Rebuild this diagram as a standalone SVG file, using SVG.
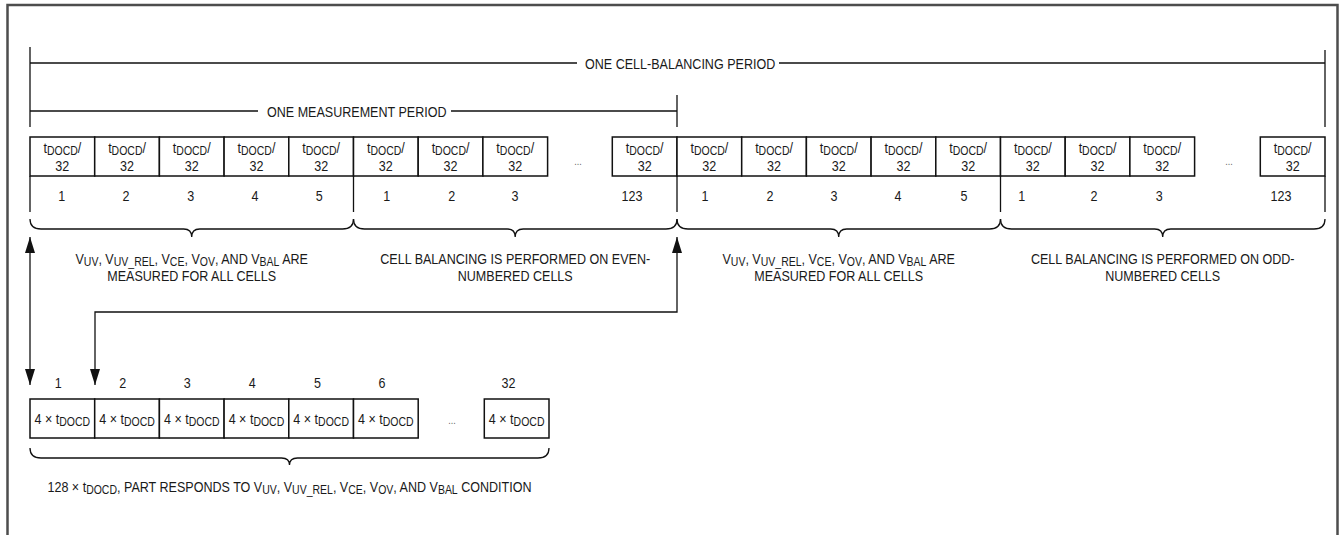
<svg xmlns="http://www.w3.org/2000/svg" width="1344" height="535" viewBox="0 0 1344 535">
<style>
.t{font-family:"Liberation Sans",Arial,sans-serif;font-size:15.3px;fill:#1a1a1a}
.m{text-anchor:middle}
.s{font-size:12.8px}
.d{font-size:11px;fill:#666}
.ln{stroke:#111;stroke-width:1.3;fill:none}
.bx{stroke:#111;stroke-width:1.5;fill:#fff}
.fr{stroke:#4d4d4d;stroke-width:2.5;fill:none}
</style>
<defs>
<marker id="ah" viewBox="0 0 16 10" refX="16" refY="5" markerWidth="16" markerHeight="10" markerUnits="userSpaceOnUse" orient="auto-start-reverse"><path d="M0,0 L16,5 L0,10 z" fill="#111"/></marker>
</defs>
<rect class="fr" x="7.5" y="5" width="1330" height="560"/>

<g id="cell-balancing-period">
<path class="ln" d="M30,63 H577 M779,63 H1325 M30,47 V127 M1325,50 V127"/>
<text class="t" transform="matrix(.82 0 0 1 585 69)">ONE CELL-BALANCING PERIOD</text>
</g>
<g id="measurement-period">
<path class="ln" d="M30,111 H258 M451,111 H677 M677,95 V127"/>
<text class="t" transform="matrix(.82 0 0 1 267 117)">ONE MEASUREMENT PERIOD</text>
</g>

<g id="top-cells">
<g id="g1-c1"><rect class="bx" x="30" y="137" width="64.7" height="39"/><text class="t m" transform="matrix(.82 0 0 1 62.35 153)">t<tspan class="s" dy="2">DOCD</tspan><tspan dy="-2">/</tspan></text><text class="t m" transform="matrix(.82 0 0 1 62.35 171)">32</text><text class="t m" transform="matrix(.82 0 0 1 61.7 201)">1</text></g>
<g id="g1-c2"><rect class="bx" x="94.7" y="137" width="64.7" height="39"/><text class="t m" transform="matrix(.82 0 0 1 127.05 153)">t<tspan class="s" dy="2">DOCD</tspan><tspan dy="-2">/</tspan></text><text class="t m" transform="matrix(.82 0 0 1 127.05 171)">32</text><text class="t m" transform="matrix(.82 0 0 1 126 201)">2</text></g>
<g id="g1-c3"><rect class="bx" x="159.4" y="137" width="64.7" height="39"/><text class="t m" transform="matrix(.82 0 0 1 191.75 153)">t<tspan class="s" dy="2">DOCD</tspan><tspan dy="-2">/</tspan></text><text class="t m" transform="matrix(.82 0 0 1 191.75 171)">32</text><text class="t m" transform="matrix(.82 0 0 1 190.7 201)">3</text></g>
<g id="g1-c4"><rect class="bx" x="224.1" y="137" width="64.7" height="39"/><text class="t m" transform="matrix(.82 0 0 1 256.45 153)">t<tspan class="s" dy="2">DOCD</tspan><tspan dy="-2">/</tspan></text><text class="t m" transform="matrix(.82 0 0 1 256.45 171)">32</text><text class="t m" transform="matrix(.82 0 0 1 255 201)">4</text></g>
<g id="g1-c5"><rect class="bx" x="288.8" y="137" width="64.7" height="39"/><text class="t m" transform="matrix(.82 0 0 1 321.15 153)">t<tspan class="s" dy="2">DOCD</tspan><tspan dy="-2">/</tspan></text><text class="t m" transform="matrix(.82 0 0 1 321.15 171)">32</text><text class="t m" transform="matrix(.82 0 0 1 319.3 201)">5</text></g>

<g id="g2-c1"><rect class="bx" x="353.5" y="137" width="64.7" height="39"/><text class="t m" transform="matrix(.82 0 0 1 385.85 153)">t<tspan class="s" dy="2">DOCD</tspan><tspan dy="-2">/</tspan></text><text class="t m" transform="matrix(.82 0 0 1 385.85 171)">32</text><text class="t m" transform="matrix(.82 0 0 1 386.7 201)">1</text></g>
<g id="g2-c2"><rect class="bx" x="418.2" y="137" width="64.7" height="39"/><text class="t m" transform="matrix(.82 0 0 1 450.55 153)">t<tspan class="s" dy="2">DOCD</tspan><tspan dy="-2">/</tspan></text><text class="t m" transform="matrix(.82 0 0 1 450.55 171)">32</text><text class="t m" transform="matrix(.82 0 0 1 451.7 201)">2</text></g>
<g id="g2-c3"><rect class="bx" x="482.9" y="137" width="64.7" height="39"/><text class="t m" transform="matrix(.82 0 0 1 515.25 153)">t<tspan class="s" dy="2">DOCD</tspan><tspan dy="-2">/</tspan></text><text class="t m" transform="matrix(.82 0 0 1 515.25 171)">32</text><text class="t m" transform="matrix(.82 0 0 1 515 201)">3</text></g>
<text class="t d m" transform="matrix(.82 0 0 1 578 165)">...</text>
<g id="g2-c123"><rect class="bx" x="612.3" y="137" width="64.7" height="39"/><text class="t m" transform="matrix(.82 0 0 1 644.65 153)">t<tspan class="s" dy="2">DOCD</tspan><tspan dy="-2">/</tspan></text><text class="t m" transform="matrix(.82 0 0 1 644.65 171)">32</text><text class="t m" transform="matrix(.82 0 0 1 632 201)">123</text></g>

<g id="g3-c1"><rect class="bx" x="677" y="137" width="64.7" height="39"/><text class="t m" transform="matrix(.82 0 0 1 709.35 153)">t<tspan class="s" dy="2">DOCD</tspan><tspan dy="-2">/</tspan></text><text class="t m" transform="matrix(.82 0 0 1 709.35 171)">32</text><text class="t m" transform="matrix(.82 0 0 1 705 201)">1</text></g>
<g id="g3-c2"><rect class="bx" x="741.7" y="137" width="64.7" height="39"/><text class="t m" transform="matrix(.82 0 0 1 774.05 153)">t<tspan class="s" dy="2">DOCD</tspan><tspan dy="-2">/</tspan></text><text class="t m" transform="matrix(.82 0 0 1 774.05 171)">32</text><text class="t m" transform="matrix(.82 0 0 1 770 201)">2</text></g>
<g id="g3-c3"><rect class="bx" x="806.4" y="137" width="64.7" height="39"/><text class="t m" transform="matrix(.82 0 0 1 838.75 153)">t<tspan class="s" dy="2">DOCD</tspan><tspan dy="-2">/</tspan></text><text class="t m" transform="matrix(.82 0 0 1 838.75 171)">32</text><text class="t m" transform="matrix(.82 0 0 1 834 201)">3</text></g>
<g id="g3-c4"><rect class="bx" x="871.1" y="137" width="64.7" height="39"/><text class="t m" transform="matrix(.82 0 0 1 903.45 153)">t<tspan class="s" dy="2">DOCD</tspan><tspan dy="-2">/</tspan></text><text class="t m" transform="matrix(.82 0 0 1 903.45 171)">32</text><text class="t m" transform="matrix(.82 0 0 1 898 201)">4</text></g>
<g id="g3-c5"><rect class="bx" x="935.8" y="137" width="64.7" height="39"/><text class="t m" transform="matrix(.82 0 0 1 968.15 153)">t<tspan class="s" dy="2">DOCD</tspan><tspan dy="-2">/</tspan></text><text class="t m" transform="matrix(.82 0 0 1 968.15 171)">32</text><text class="t m" transform="matrix(.82 0 0 1 964 201)">5</text></g>

<g id="g4-c1"><rect class="bx" x="1000.5" y="137" width="64.7" height="39"/><text class="t m" transform="matrix(.82 0 0 1 1032.85 153)">t<tspan class="s" dy="2">DOCD</tspan><tspan dy="-2">/</tspan></text><text class="t m" transform="matrix(.82 0 0 1 1032.85 171)">32</text><text class="t m" transform="matrix(.82 0 0 1 1021.7 201)">1</text></g>
<g id="g4-c2"><rect class="bx" x="1065.2" y="137" width="64.7" height="39"/><text class="t m" transform="matrix(.82 0 0 1 1097.55 153)">t<tspan class="s" dy="2">DOCD</tspan><tspan dy="-2">/</tspan></text><text class="t m" transform="matrix(.82 0 0 1 1097.55 171)">32</text><text class="t m" transform="matrix(.82 0 0 1 1094 201)">2</text></g>
<g id="g4-c3"><rect class="bx" x="1129.9" y="137" width="64.7" height="39"/><text class="t m" transform="matrix(.82 0 0 1 1162.25 153)">t<tspan class="s" dy="2">DOCD</tspan><tspan dy="-2">/</tspan></text><text class="t m" transform="matrix(.82 0 0 1 1162.25 171)">32</text><text class="t m" transform="matrix(.82 0 0 1 1159.3 201)">3</text></g>
<text class="t d m" transform="matrix(.82 0 0 1 1229 165)">...</text>
<g id="g4-c123"><rect class="bx" x="1260.3" y="137" width="64.7" height="39"/><text class="t m" transform="matrix(.82 0 0 1 1292.65 153)">t<tspan class="s" dy="2">DOCD</tspan><tspan dy="-2">/</tspan></text><text class="t m" transform="matrix(.82 0 0 1 1292.65 171)">32</text><text class="t m" transform="matrix(.82 0 0 1 1281 201)">123</text></g>
</g>

<g id="group-dividers">
<path class="ln" d="M30,176 V212 M353.5,176 V212 M677,176 V212 M1000.5,176 V212 M1325,176 V212"/>
</g>

<g id="braces">
<path class="ln" d="M30,219 Q30,229 41,229 H183.7 Q191.7,229 191.7,237 Q191.7,229 199.7,229 H342.5 Q353.5,229 353.5,219"/>
<path class="ln" d="M353.5,219 Q353.5,229 364.5,229 H507.2 Q515.2,229 515.2,237 Q515.2,229 523.2,229 H666 Q677,229 677,219"/>
<path class="ln" d="M677,219 Q677,229 688,229 H830.7 Q838.7,229 838.7,237 Q838.7,229 846.7,229 H989.5 Q1000.5,229 1000.5,219"/>
<path class="ln" d="M1000.5,219 Q1000.5,229 1011.5,229 H1154.7 Q1162.7,229 1162.7,237 Q1162.7,229 1170.7,229 H1314 Q1325,229 1325,219"/>
<path class="ln" d="M30,448 Q30,458 41,458 H281.5 Q289.5,458 289.5,465 Q289.5,458 297.5,458 H538 Q549,458 549,448"/>
</g>

<g id="label-measure-1">
<text class="t m" transform="matrix(.82 0 0 1 191.7 264)">V<tspan class="s" dy="2">UV</tspan><tspan dy="-2">, V</tspan><tspan class="s" dy="2">UV_REL</tspan><tspan dy="-2">, V</tspan><tspan class="s" dy="2">CE</tspan><tspan dy="-2">, V</tspan><tspan class="s" dy="2">OV</tspan><tspan dy="-2">, AND V</tspan><tspan class="s" dy="2">BAL</tspan><tspan dy="-2"> ARE</tspan></text>
<text class="t m" transform="matrix(.82 0 0 1 191.7 281)">MEASURED FOR ALL CELLS</text>
</g>
<g id="label-even">
<text class="t m" transform="matrix(.82 0 0 1 515.2 264)">CELL BALANCING IS PERFORMED ON EVEN-</text>
<text class="t m" transform="matrix(.82 0 0 1 515.2 281)">NUMBERED CELLS</text>
</g>
<g id="label-measure-2">
<text class="t m" transform="matrix(.82 0 0 1 838.7 264)">V<tspan class="s" dy="2">UV</tspan><tspan dy="-2">, V</tspan><tspan class="s" dy="2">UV_REL</tspan><tspan dy="-2">, V</tspan><tspan class="s" dy="2">CE</tspan><tspan dy="-2">, V</tspan><tspan class="s" dy="2">OV</tspan><tspan dy="-2">, AND V</tspan><tspan class="s" dy="2">BAL</tspan><tspan dy="-2"> ARE</tspan></text>
<text class="t m" transform="matrix(.82 0 0 1 838.7 281)">MEASURED FOR ALL CELLS</text>
</g>
<g id="label-odd">
<text class="t m" transform="matrix(.82 0 0 1 1162.7 264)">CELL BALANCING IS PERFORMED ON ODD-</text>
<text class="t m" transform="matrix(.82 0 0 1 1162.7 281)">NUMBERED CELLS</text>
</g>

<g id="bottom-cells">
<g id="b1"><text class="t m" transform="matrix(.82 0 0 1 58.3 388)">1</text><rect class="bx" x="30" y="399" width="64.7" height="39"/><text class="t m" transform="matrix(.82 0 0 1 62.35 424)">4 × t<tspan class="s" dy="2">DOCD</tspan></text></g>
<g id="b2"><text class="t m" transform="matrix(.82 0 0 1 122.7 388)">2</text><rect class="bx" x="94.7" y="399" width="64.7" height="39"/><text class="t m" transform="matrix(.82 0 0 1 127.05 424)">4 × t<tspan class="s" dy="2">DOCD</tspan></text></g>
<g id="b3"><text class="t m" transform="matrix(.82 0 0 1 187.3 388)">3</text><rect class="bx" x="159.4" y="399" width="64.7" height="39"/><text class="t m" transform="matrix(.82 0 0 1 191.75 424)">4 × t<tspan class="s" dy="2">DOCD</tspan></text></g>
<g id="b4"><text class="t m" transform="matrix(.82 0 0 1 252.3 388)">4</text><rect class="bx" x="224.1" y="399" width="64.7" height="39"/><text class="t m" transform="matrix(.82 0 0 1 256.45 424)">4 × t<tspan class="s" dy="2">DOCD</tspan></text></g>
<g id="b5"><text class="t m" transform="matrix(.82 0 0 1 317.4 388)">5</text><rect class="bx" x="288.8" y="399" width="64.7" height="39"/><text class="t m" transform="matrix(.82 0 0 1 321.15 424)">4 × t<tspan class="s" dy="2">DOCD</tspan></text></g>
<g id="b6"><text class="t m" transform="matrix(.82 0 0 1 382 388)">6</text><rect class="bx" x="353.5" y="399" width="64.7" height="39"/><text class="t m" transform="matrix(.82 0 0 1 385.85 424)">4 × t<tspan class="s" dy="2">DOCD</tspan></text></g>
<text class="t d m" transform="matrix(.82 0 0 1 452 424)">...</text>
<g id="b32"><text class="t m" transform="matrix(.82 0 0 1 508.6 388)">32</text><rect class="bx" x="484.3" y="399" width="64.7" height="39"/><text class="t m" transform="matrix(.82 0 0 1 516.65 424)">4 × t<tspan class="s" dy="2">DOCD</tspan></text></g>
</g>

<g id="label-response">
<text class="t m" transform="matrix(.82 0 0 1 289.5 492)">128 × t<tspan class="s" dy="2">DOCD</tspan><tspan dy="-2">, PART RESPONDS TO V</tspan><tspan class="s" dy="2">UV</tspan><tspan dy="-2">, V</tspan><tspan class="s" dy="2">UV_REL</tspan><tspan dy="-2">, V</tspan><tspan class="s" dy="2">CE</tspan><tspan dy="-2">, V</tspan><tspan class="s" dy="2">OV</tspan><tspan dy="-2">, AND V</tspan><tspan class="s" dy="2">BAL</tspan><tspan dy="-2"> CONDITION</tspan></text>
</g>

<g id="connectors">
<path class="ln" d="M30,237 V385" marker-start="url(#ah)" marker-end="url(#ah)"/>
<path class="ln" d="M677,237 V312 H95 V385" marker-start="url(#ah)" marker-end="url(#ah)"/>
</g>
</svg>
